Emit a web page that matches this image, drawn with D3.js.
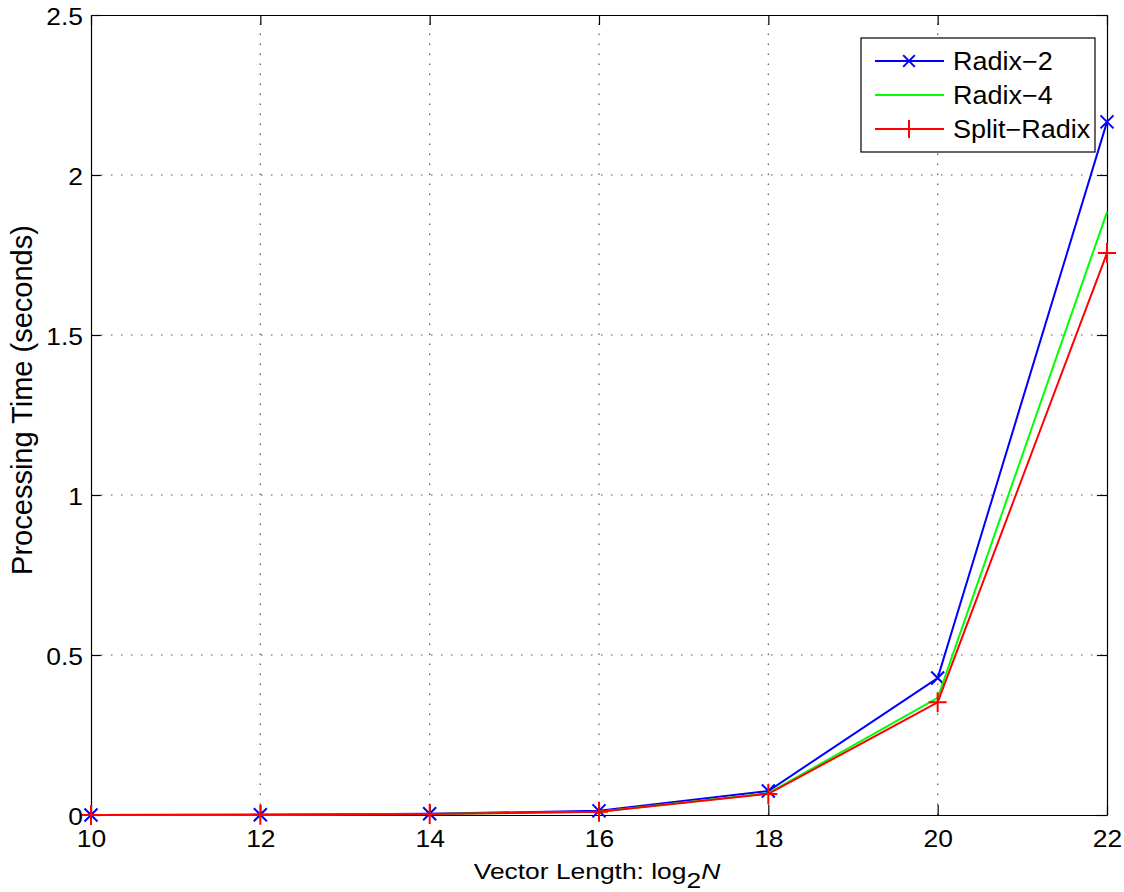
<!DOCTYPE html>
<html>
<head>
<meta charset="utf-8">
<script src="https://cdn.jsdelivr.net/npm/d3@7"></script>
<style>
  html, body { margin: 0; padding: 0; background: #fff; }
  svg { display: block; }
  svg text { font-family: "Liberation Sans", Arial, sans-serif; }
</style>
</head>
<body>
<svg id="chart" width="1124" height="892"></svg>
<script>
// FFT timing results: processing time vs. log2 of vector length
const lengths = [10, 12, 14, 16, 18, 20, 22];
const radix2 = [0.0002, 0.001, 0.004, 0.013, 0.075, 0.428, 2.166];
const radix4 = [0.0002, 0.0008, 0.003, 0.010, 0.068, 0.366, 1.884];
const splitRadix = [0.0002, 0.0008, 0.003, 0.010, 0.066, 0.352, 1.756];
const xTicks = [10, 12, 14, 16, 18, 20, 22];
const yTicks = [0, 0.5, 1, 1.5, 2, 2.5];

const series = [
  { name: "Radix\u22122", values: radix2, color: "#0000ff", marker: "x" },
  { name: "Radix\u22124", values: radix4, color: "#00ff00", marker: "none" },
  { name: "Split\u2212Radix", values: splitRadix, color: "#ff0000", marker: "+" }
];

const svg = d3.select("#chart");
const L = 91, R = 1107, T = 15, B = 815;

const x = d3.scaleLinear().domain([10, 22]).range([L, R]);
const y = d3.scaleLinear().domain([0, 2.5]).range([B, T]);

// dotted grid
const grid = svg.append("g").attr("stroke", "#555").attr("stroke-width", 1.2)
  .attr("stroke-dasharray", "1.5,8.5");
xTicks.slice(1, -1).forEach(t => {
  grid.append("line").attr("x1", x(t)).attr("x2", x(t)).attr("y1", B).attr("y2", T);
});
yTicks.slice(1, -1).forEach(t => {
  grid.append("line").attr("x1", L).attr("x2", R).attr("y1", y(t)).attr("y2", y(t));
});

// axes with inward ticks on all four sides
const tickLen = 10;
svg.append("g").attr("transform", `translate(0,${T})`)
  .call(d3.axisTop(x).tickValues(xTicks).tickSizeInner(-tickLen).tickSizeOuter(0).tickFormat(""));
svg.append("g").attr("transform", `translate(${R},0)`)
  .call(d3.axisRight(y).tickValues(yTicks).tickSizeInner(-tickLen).tickSizeOuter(0).tickFormat(""));
const xAxis = svg.append("g").attr("transform", `translate(0,${B})`)
  .call(d3.axisBottom(x).tickValues(xTicks).tickSizeInner(-tickLen).tickSizeOuter(0).tickFormat(""));
const yAxis = svg.append("g").attr("transform", `translate(${L},0)`)
  .call(d3.axisLeft(y).tickValues(yTicks).tickSizeInner(-tickLen).tickSizeOuter(0).tickFormat(""));

svg.selectAll(".domain").attr("stroke", "#000").attr("stroke-width", 1.2);
svg.selectAll(".tick line").attr("stroke", "#000").attr("stroke-width", 1.2);

// tick labels (slightly wide Helvetica look)
const tickFont = 24, tickStretch = 1.1;
xAxis.selectAll(".tick").append("text")
  .attr("transform", `translate(0,32) scale(${tickStretch},1)`)
  .attr("text-anchor", "middle").attr("fill", "#000")
  .style("font-size", tickFont + "px").text(d => d3.format("d")(d));
yAxis.selectAll(".tick").append("text")
  .attr("transform", `translate(-8,9) scale(${tickStretch},1)`)
  .attr("text-anchor", "end").attr("fill", "#000")
  .style("font-size", tickFont + "px").text(d => d);

// series lines
const line = d3.line().x((d, i) => x(lengths[i])).y(d => y(d));
const drawMarker = (g, m, cx, cy, color, sc) => {
  if (m === "x") {
    const s = 6.5 * sc;
    g.append("path").attr("d", `M${cx - s},${cy - s}L${cx + s},${cy + s}M${cx - s},${cy + s}L${cx + s},${cy - s}`)
      .attr("stroke", color).attr("stroke-width", 2).attr("fill", "none");
  } else if (m === "+") {
    const sx = 9 * sc, sy = 10 * sc;
    g.append("path").attr("d", `M${cx - sx},${cy}L${cx + sx},${cy}M${cx},${cy - sy}L${cx},${cy + sy}`)
      .attr("stroke", color).attr("stroke-width", 2).attr("fill", "none");
  }
};

series.forEach(s => {
  const g = svg.append("g");
  g.append("path").datum(s.values).attr("d", line)
    .attr("fill", "none").attr("stroke", s.color).attr("stroke-width", 2);
  s.values.forEach((v, i) => drawMarker(g, s.marker, x(lengths[i]), y(v), s.color, 1));
});

// legend
const lg = svg.append("g");
lg.append("rect").attr("x", 861).attr("y", 38).attr("width", 234).attr("height", 114)
  .attr("fill", "#fff").attr("stroke", "#000").attr("stroke-width", 1.2);
series.forEach((s, i) => {
  const ry = 61 + i * 34;
  lg.append("line").attr("x1", 875).attr("x2", 944).attr("y1", ry).attr("y2", ry)
    .attr("stroke", s.color).attr("stroke-width", 2);
  drawMarker(lg, s.marker, 909, ry, s.color, 0.9);
  lg.append("text").attr("transform", `translate(953,${ry + 8.5}) scale(1.08,1)`).text(s.name)
    .style("font-size", "25px").attr("fill", "#000");
});

// axis titles
const xt = svg.append("text").attr("transform", "translate(597,879) scale(1.2,1)")
  .attr("text-anchor", "middle").style("font-size", "22px").attr("fill", "#000");
xt.append("tspan").text("Vector Length: log");
xt.append("tspan").text("2").attr("dy", 9).style("font-size", "22px");
xt.append("tspan").text("N").attr("dy", -9).style("font-style", "italic");

svg.append("text").attr("transform", "translate(32,400) rotate(-90)").attr("text-anchor", "middle")
  .style("font-size", "29px").attr("fill", "#000").text("Processing Time (seconds)");
</script>
</body>
</html>
